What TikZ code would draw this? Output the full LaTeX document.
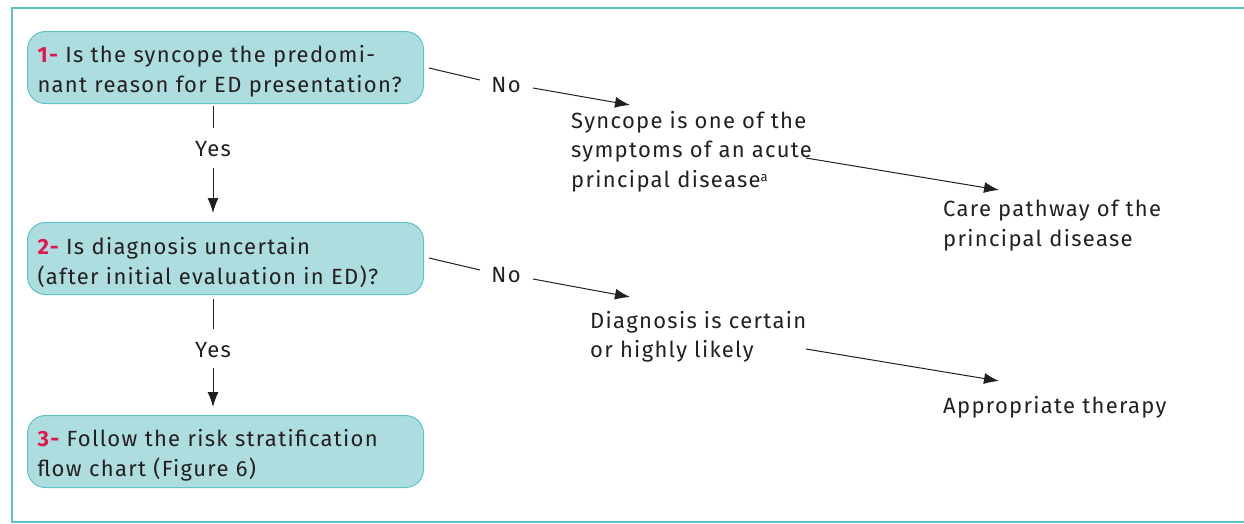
\documentclass[tikz,border=0pt]{standalone}
\usepackage{fontspec}
\setmainfont{Fira Sans}[LetterSpace=6]
\usetikzlibrary{arrows.meta}
\definecolor{boxfill}{HTML}{AEDDE0}
\definecolor{boxline}{HTML}{5CC3C6}
\definecolor{numred}{HTML}{E2184C}
\definecolor{ink}{HTML}{231F20}
\newcommand{\qnum}[1]{\rule{0pt}{25pt}\textcolor{numred}{\bfseries #1}}
\newcommand{\supa}{\raisebox{6pt}{\fontsize{13}{13}\selectfont a}}
\begin{document}
\begin{tikzpicture}[x=1pt,y=-1pt,
  every node/.style={text=ink,font=\fontsize{22}{29.5}\selectfont},
  qbox/.style={draw=boxline,fill=boxfill,line width=1pt,rounded corners=18pt,
    minimum width=396pt,minimum height=72pt,text width=376pt,inner xsep=10pt,
    align=left,anchor=north west},
  plain/.style={inner sep=0pt,align=left,anchor=north west},
  lbl/.style={inner sep=0pt},
  conn/.style={draw=ink,line width=1pt},
  arr/.style={conn,-{Latex[length=15pt,width=11pt]}}]
\useasboundingbox (0,0) rectangle (1244,523);
\draw[boxline,line width=2.5pt] (1244,8) -- (12,8) -- (12,522) -- (1244,522);

\node[qbox] (b1) at (27,31) {\qnum{1-} Is the syncope the predomi-\\nant reason for ED presentation?};
\node[qbox] (b2) at (27,222) {\qnum{2-} Is diagnosis uncertain\\(after initial evaluation in ED)?};
\node[qbox] (b3) at (27,415) {\qnum{3-} Follow the risk stratification\\flow chart (Figure 6)};

\node[lbl] (y1) at (213,149) {Yes};
\node[lbl] (y2) at (213,350) {Yes};
\node[lbl] (n1) at (506,85) {No};
\node[lbl] (n2) at (506,275) {No};

\node[plain] (syn) at (571,111) {Syncope is one of the\\symptoms of an acute\\principal disease\supa};
\node[plain] (care) at (943,200) {Care pathway of the\\principal disease};
\node[plain] (diag) at (590,311) {Diagnosis is certain\\or highly likely};
\node[plain] (ther) at (943,396) {Appropriate therapy};

% coordinates for connector ends
\coordinate (b1s) at (213,106);
\coordinate (y1t) at (213,128);
\coordinate (y1b) at (213,168);
\coordinate (b2t) at (213,213);
\coordinate (b2s) at (213,299);
\coordinate (y2t) at (213,329);
\coordinate (y2b) at (213,368);
\coordinate (b3t) at (213,407);

\coordinate (b1e) at (429,68);
\coordinate (n1l) at (480,80);
\coordinate (n1r) at (533,88);
\coordinate (synw) at (630,105);
\coordinate (syne) at (806,158);
\coordinate (carew) at (999,190);

\coordinate (b2e) at (429,258);
\coordinate (n2l) at (480,270);
\coordinate (n2r) at (533,279);
\coordinate (diagw) at (630,297);
\coordinate (diage) at (806,349);
\coordinate (therw) at (999,381);

\draw[conn] (b1s) -- (y1t);
\draw[arr] (y1b) -- (b2t);
\draw[conn] (b2s) -- (y2t);
\draw[arr] (y2b) -- (b3t);

\draw[conn] (b1e) -- (n1l);
\draw[arr] (n1r) -- (synw);
\draw[arr] (syne) -- (carew);

\draw[conn] (b2e) -- (n2l);
\draw[arr] (n2r) -- (diagw);
\draw[arr] (diage) -- (therw);
\end{tikzpicture}
\end{document}
